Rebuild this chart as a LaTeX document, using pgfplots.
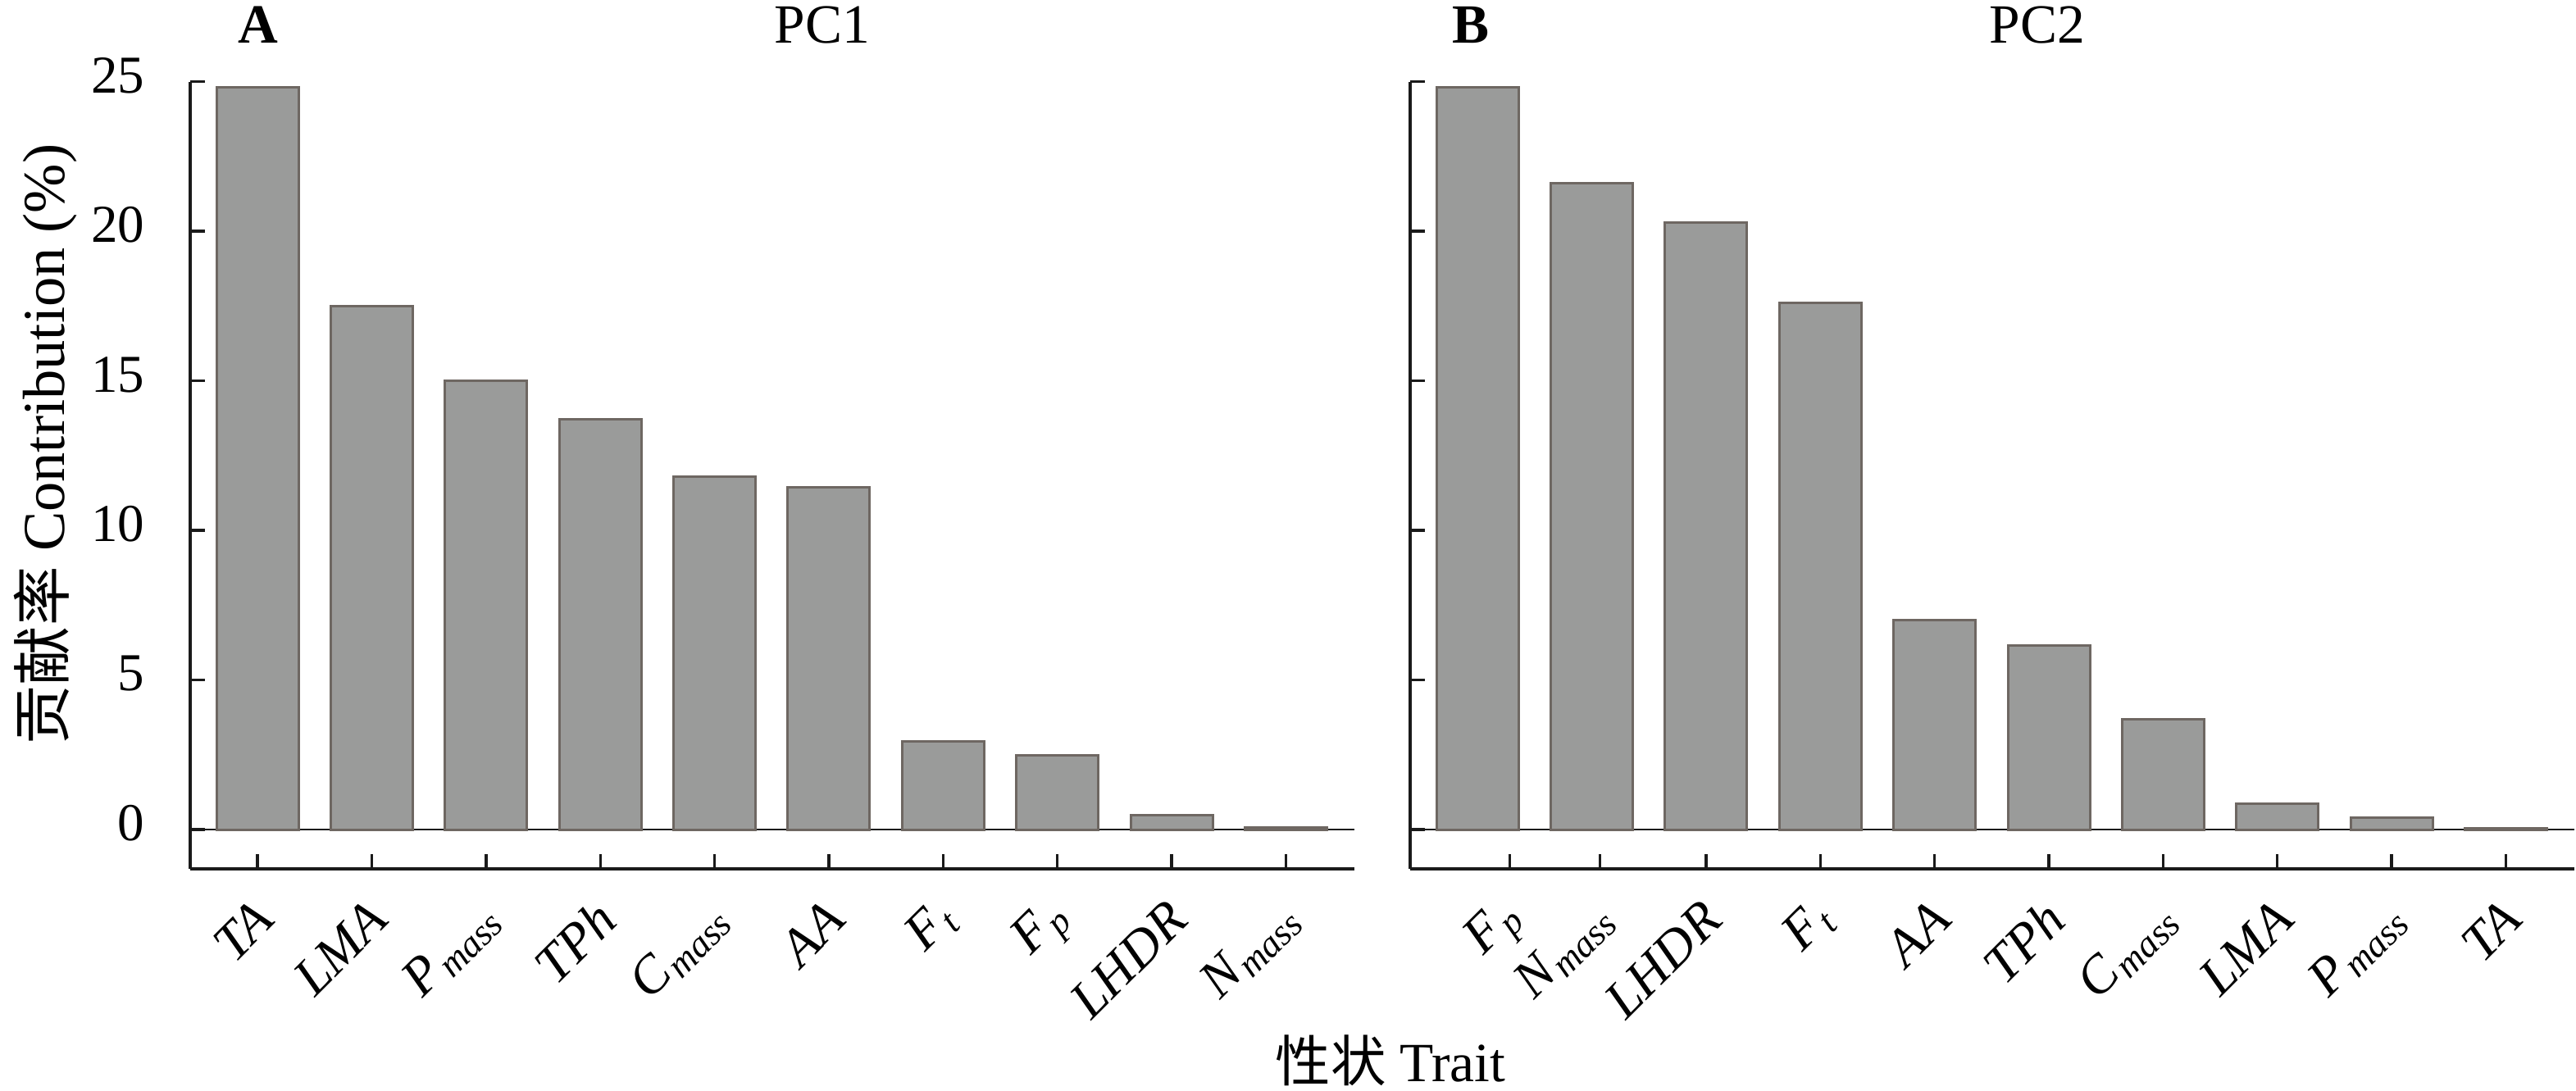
\documentclass[border=0pt]{standalone}
\usepackage{fontspec}
\setmainfont{Liberation Serif}
\newfontfamily\cjk{Noto Sans CJK SC}
\usepackage{pgfplots}
\pgfplotsset{compat=1.18}
\definecolor{barfill}{HTML}{9A9B9A}
\definecolor{baredge}{HTML}{6E6762}
\definecolor{axk}{HTML}{1A1A1A}
\newcommand{\sub}[2]{\textit{#1}\kern0.5pt\textsubscript{\itshape #2}}
\pgfplotsset{
  mypanel/.style={
    scale only axis, width=284pt, height=192.1pt,
    xmin=-0.59, xmax=9.6, ymin=-1.315, ymax=25,
    axis lines*=left,
    axis line style={axk, line width=0.7pt},
    ytick={0,5,10,15,20,25},
    tick align=inside, major tick length=3.6pt,
    tick style={axk, line width=0.7pt},
    xticklabel style={font=\fontsize{13}{13}\selectfont\itshape, inner sep=0pt,
      xshift=1.6pt, yshift=-10pt, rotate=45, anchor=east},
    yticklabel style={font=\fontsize{13}{13}\selectfont, inner sep=0pt, xshift=-11pt, yshift=1.5pt},
    /pgf/number format/assume math mode=true,
    clip=false,
  }
}
\begin{document}
\begin{tikzpicture}
\useasboundingbox (0,0) rectangle (628.4pt,266pt);
% Panel A
\begin{axis}[mypanel, at={(46.4pt,54pt)}, anchor=south west,
  xtick={0,1,2,3,4,5,6,7,8,9},
  xticklabels={{TA},{LMA},{\sub{P}{mass}},{TPh},{\sub{C}{mass}},{AA},{\sub{F}{t}},{\sub{F}{p}},{LHDR},{\sub{N}{mass}}}]
\draw[axk, line width=0.55pt] (axis cs:-0.59,0) -- (axis cs:9.6,0);
\addplot[ybar, bar width=20pt, fill=barfill, draw=baredge, line width=0.6pt]
  coordinates {(0,24.8) (1,17.5) (2,15.0) (3,13.7) (4,11.8) (5,11.45) (6,2.95) (7,2.47) (8,0.47) (9,0.08)};
\end{axis}
% Panel B
\begin{axis}[mypanel, at={(344pt,54pt)}, anchor=south west,
  yticklabels={},
  xtick={0.28,1.07,2,3,4,5,6,7,8,9},
  xticklabels={{\sub{F}{p}},{\sub{N}{mass}},{LHDR},{\sub{F}{t}},{AA},{TPh},{\sub{C}{mass}},{LMA},{\sub{P}{mass}},{TA}}]
\draw[axk, line width=0.55pt] (axis cs:-0.59,0) -- (axis cs:9.6,0);
\addplot[ybar, bar width=20pt, fill=barfill, draw=baredge, line width=0.6pt]
  coordinates {(0,24.8) (1,21.6) (2,20.3) (3,17.6) (4,7.0) (5,6.15) (6,3.68) (7,0.86) (8,0.4) (9,0.05)};
\end{axis}
% titles
\node[font=\fontsize{13.5}{13.5}\selectfont\bfseries] at (63pt,260pt) {A};
\node[font=\fontsize{13.5}{13.5}\selectfont] at (200.6pt,260pt) {PC1};
\node[font=\fontsize{13.5}{13.5}\selectfont\bfseries] at (358.8pt,260pt) {B};
\node[font=\fontsize{13.5}{13.5}\selectfont] at (497pt,260pt) {PC2};
% axis labels
\node[rotate=90, font=\fontsize{14.5}{14.5}\selectfont] at (11.2pt,157.6pt) {{\cjk 贡献率} Contribution (\%)};
\node[font=\fontsize{13.5}{13.5}\selectfont] at (339.2pt,7.2pt) {{\cjk 性状} Trait};
\end{tikzpicture}
\end{document}
